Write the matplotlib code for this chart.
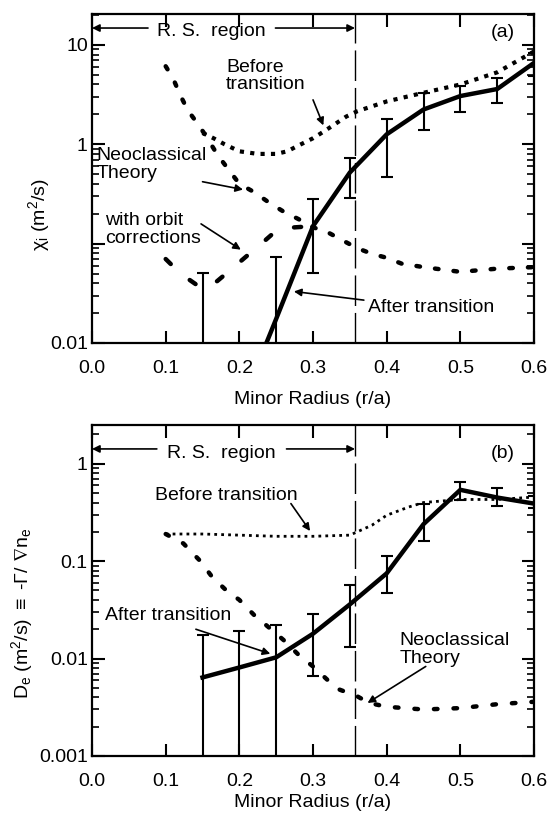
import numpy as np
import matplotlib
matplotlib.use('Agg')
import matplotlib.pyplot as plt
from matplotlib.ticker import LogLocator, NullFormatter, FormatStrFormatter

plt.rcParams['font.family'] = ['Liberation Sans', 'DejaVu Sans']
plt.rcParams['mathtext.fontset'] = 'custom'
plt.rcParams['mathtext.rm'] = 'Liberation Sans'
plt.rcParams['mathtext.it'] = 'Liberation Sans:italic'
plt.rcParams['mathtext.fallback'] = 'stixsans'

# ---- (a) ion thermal diffusivity ----
r_after_a = [0.235, 0.25, 0.3, 0.35, 0.4, 0.45, 0.5, 0.55, 0.6]
chi_after_a = [0.0093, 0.0175, 0.15, 0.52, 1.26, 2.24, 3.06, 3.6, 6.6]

r_err_a = [0.15, 0.25, 0.3, 0.35, 0.4, 0.45, 0.5, 0.55, 0.6]
chi_lo_a = [0.001, 0.001, 0.051, 0.285, 0.47, 1.38, 2.1, 2.62, 4.9]
chi_hi_a = [0.051, 0.073, 0.28, 0.73, 1.78, 3.25, 3.85, 4.67, 8.3]

r_before_a = [0.15, 0.165, 0.18, 0.2, 0.225, 0.25, 0.265, 0.28, 0.3, 0.315,
              0.33, 0.345, 0.36, 0.4, 0.45, 0.5, 0.55, 0.59, 0.6]
chi_before_a = [1.3, 1.15, 1.0, 0.85, 0.8, 0.8, 0.85, 0.97, 1.15, 1.35,
                1.6, 1.9, 2.15, 2.7, 3.3, 4.0, 5.3, 7.8, 8.6]

r_neo_a = [0.1, 0.11, 0.12, 0.13, 0.145, 0.155, 0.17, 0.185, 0.2, 0.22, 0.24,
           0.26, 0.28, 0.3, 0.32, 0.34, 0.36, 0.38, 0.4, 0.42, 0.45, 0.5,
           0.55, 0.6]
chi_neo_a = [6.1, 4.6, 3.1, 2.2, 1.55, 1.2, 0.79, 0.56, 0.40, 0.33, 0.26,
             0.21, 0.177, 0.146, 0.13, 0.108, 0.09, 0.079, 0.072, 0.063,
             0.058, 0.052, 0.056, 0.058]

r_orbit_a = [0.1, 0.12, 0.15, 0.17, 0.19, 0.21, 0.23, 0.25, 0.27, 0.3]
chi_orbit_a = [0.07, 0.05, 0.035, 0.042, 0.056, 0.075, 0.1, 0.135, 0.145, 0.15]

# ---- (b) particle diffusivity ----
r_after_b = [0.15, 0.2, 0.25, 0.3, 0.35, 0.4, 0.45, 0.5, 0.55, 0.6]
de_after_b = [0.0064, 0.0081, 0.0103, 0.018, 0.036, 0.075, 0.24, 0.54, 0.45, 0.39]

r_err_b = [0.15, 0.2, 0.25, 0.3, 0.35, 0.4, 0.45, 0.5, 0.55, 0.6]
de_lo_b = [0.0002, 0.0002, 0.0002, 0.0066, 0.013, 0.047, 0.16, 0.42, 0.37, 0.35]
de_hi_b = [0.0175, 0.019, 0.022, 0.029, 0.057, 0.114, 0.39, 0.65, 0.56, 0.47]

r_before_b = [0.1, 0.15, 0.2, 0.25, 0.3, 0.35, 0.38, 0.4, 0.43, 0.45, 0.5,
              0.55, 0.6]
de_before_b = [0.19, 0.19, 0.185, 0.18, 0.18, 0.185, 0.234, 0.296, 0.36, 0.4,
               0.43, 0.43, 0.455]

r_neo_b = [0.1, 0.124, 0.146, 0.163, 0.18, 0.2, 0.22, 0.243, 0.26, 0.28, 0.3,
           0.32, 0.336, 0.36, 0.376, 0.4, 0.45, 0.5, 0.55, 0.6]
de_neo_b = [0.19, 0.152, 0.102, 0.069, 0.052, 0.04, 0.028, 0.02, 0.0155,
            0.011, 0.0083, 0.006, 0.0048, 0.0041, 0.0035, 0.0032, 0.003,
            0.0031, 0.0034, 0.0036]

rs_edge = 0.357
label_size = 14
arrow = dict(arrowstyle='-|>', color='k', lw=1.2, mutation_scale=11,
             shrinkA=0, shrinkB=0)


def errbars(ax, x, lo, hi):
    lo = np.array(lo)
    hi = np.array(hi)
    mid = np.sqrt(lo * hi)
    ax.errorbar(x, mid, yerr=[mid - lo, hi - mid], fmt='none', ecolor='k',
                elinewidth=1.5, capsize=4, capthick=1.5)


def style_axes(ax, ylim, yticks, ylabels):
    ax.set_yscale('log')
    ax.set_xlim(0, 0.6)
    ax.set_ylim(*ylim)
    ax.set_xticks(np.arange(0, 0.61, 0.1))
    ax.xaxis.set_major_formatter(FormatStrFormatter('%.1f'))
    ax.set_yticks(yticks)
    ax.set_yticklabels(ylabels)
    ax.yaxis.set_minor_locator(LogLocator(base=10, subs=np.arange(2, 10), numticks=20))
    ax.yaxis.set_minor_formatter(NullFormatter())
    ax.tick_params(which='both', direction='in', top=True, right=True)
    ax.tick_params(which='major', length=9, width=1.5, labelsize=14)
    ax.tick_params(which='minor', length=5, width=1.2)
    ax.tick_params(axis='x', pad=12)
    ax.tick_params(axis='y', pad=3)
    for s in ax.spines.values():
        s.set_linewidth(1.6)
    ax.axvline(rs_edge, color='k', lw=1.0, ls=(0, (22, 5)))


fig = plt.figure(figsize=(5.53, 8.17), dpi=100)
ax1 = fig.add_axes([0.1664, 0.5802, 0.7993, 0.4027])
ax2 = fig.add_axes([0.1664, 0.0747, 0.7993, 0.4051])

# panel (a)
style_axes(ax1, (0.01, 20.5), [0.01, 0.1, 1, 10], ['0.01', '', '1', '10'])
ax1.plot(r_before_a, chi_before_a, color='k', lw=3, ls=(0, (1, 1.5)))
ax1.plot(r_neo_a, chi_neo_a, color='k', lw=3.2, ls=(0, (0.8, 3.4)),
         dash_capstyle='round')
ax1.plot(r_orbit_a, chi_orbit_a, color='k', lw=3.2, ls=(0, (1.6, 5.6)),
         dash_capstyle='round')
ax1.plot(r_after_a, chi_after_a, color='k', lw=3.2)
errbars(ax1, r_err_a, chi_lo_a, chi_hi_a)

ax1.text(0.1625, 13.6, 'R. S.  region', fontsize=label_size, ha='center', va='center')
ax1.annotate('', xy=(0.0, 14.8), xytext=(0.076, 14.8), arrowprops=arrow)
ax1.annotate('', xy=(rs_edge, 14.8), xytext=(0.249, 14.8), arrowprops=arrow)
ax1.text(0.557, 13.2, '(a)', fontsize=label_size, ha='center', va='center')
ax1.text(0.182, 4.85, 'Before\ntransition', fontsize=label_size, ha='left',
         va='center', linespacing=1.05)
ax1.annotate('', xy=(0.314, 1.55), xytext=(0.3, 2.8), arrowprops=arrow)
ax1.text(0.006, 0.63, 'Neoclassical\nTheory', fontsize=label_size, ha='left',
         va='center', linespacing=1.05)
ax1.annotate('', xy=(0.205, 0.35), xytext=(0.15, 0.42), arrowprops=arrow)
ax1.text(0.018, 0.139, 'with orbit\ncorrections', fontsize=label_size, ha='left',
         va='center', linespacing=1.05)
ax1.annotate('', xy=(0.202, 0.087), xytext=(0.148, 0.158), arrowprops=arrow)
ax1.text(0.374, 0.023, 'After transition', fontsize=label_size, ha='left', va='center')
ax1.annotate('', xy=(0.274, 0.033), xytext=(0.369, 0.027), arrowprops=arrow)

ax1.set_xlabel('Minor Radius (r/a)', fontsize=14)
ax1.xaxis.set_label_coords(0.5, -0.145)
ax1.set_ylabel('χ$_{\\mathrm{i}}$ (m$^{2}$/s)', fontsize=14)
ax1.yaxis.set_label_coords(-0.09, 0.39)

# panel (b)
style_axes(ax2, (0.001, 2.5), [0.001, 0.01, 0.1, 1], ['0.001', '0.01', '0.1', '1'])
ax2.plot(r_before_b, de_before_b, color='k', lw=2, ls=(0, (1, 1.5)))
ax2.plot(r_neo_b, de_neo_b, color='k', lw=3.2, ls=(0, (0.8, 3.6)),
         dash_capstyle='round')
ax2.plot(r_after_b, de_after_b, color='k', lw=3.2)
errbars(ax2, r_err_b, de_lo_b, de_hi_b)

ax2.text(0.175, 1.27, 'R. S.  region', fontsize=label_size, ha='center', va='center')
ax2.annotate('', xy=(0.0, 1.42), xytext=(0.088, 1.42), arrowprops=arrow)
ax2.annotate('', xy=(rs_edge, 1.42), xytext=(0.264, 1.42), arrowprops=arrow)
ax2.text(0.557, 1.27, '(b)', fontsize=label_size, ha='center', va='center')
ax2.text(0.086, 0.47, 'Before transition', fontsize=label_size, ha='left', va='center')
ax2.annotate('', xy=(0.296, 0.204), xytext=(0.27, 0.39), arrowprops=arrow)
ax2.text(0.018, 0.028, 'After transition', fontsize=label_size, ha='left', va='center')
ax2.annotate('', xy=(0.242, 0.0112), xytext=(0.141, 0.02), arrowprops=arrow)
ax2.text(0.417, 0.0124, 'Neoclassical\nTheory', fontsize=label_size, ha='left',
         va='center', linespacing=1.05)
ax2.annotate('', xy=(0.374, 0.0035), xytext=(0.453, 0.0083), arrowprops=arrow)

ax2.set_xlabel('Minor Radius (r/a)', fontsize=14)
ax2.xaxis.set_label_coords(0.5, -0.115)
ax2.set_ylabel('D$_{\\mathrm{e}}$ (m$^{2}$/s) $\\equiv$ -$\\Gamma$/ $\\nabla$n$_{\\mathrm{e}}$',
               fontsize=14)
ax2.yaxis.set_label_coords(-0.13, 0.43)

fig.savefig('out.png', dpi=100)
